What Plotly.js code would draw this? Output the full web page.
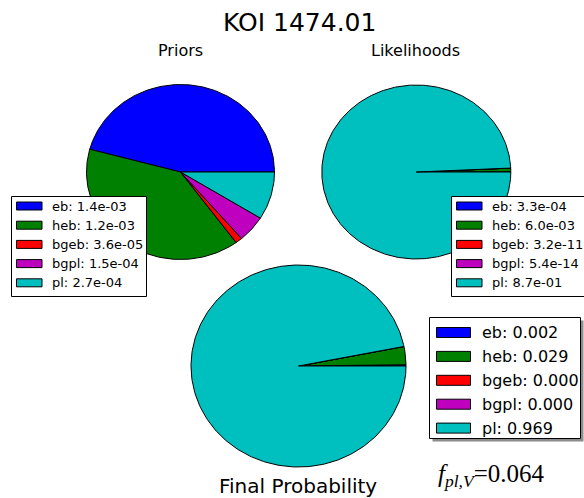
<!DOCTYPE html>
<html>
<head>
<meta charset="utf-8">
<script src="https://cdn.plot.ly/plotly-3.0.1.min.js"></script>
<style>html,body{margin:0;padding:0;background:#fff;}#chart{width:584px;height:498px;}</style>
</head>
<body>
<div id="chart"></div>
<script>
// ---- data ----
const koiName = 'KOI 1474.01';
const labels = ['eb', 'heb', 'bgeb', 'bgpl', 'pl'];
const priors = [1.4e-3, 1.2e-3, 3.6e-5, 1.5e-4, 2.7e-4];
const likelihoods = [3.3e-4, 6.0e-3, 3.2e-11, 5.4e-14, 8.7e-1];
const finalProb = [0.002, 0.029, 0.000, 0.000, 0.969];
const fplV = 0.064;
const panelTitles = ['Priors', 'Likelihoods', 'Final Probability'];

// ---- styling / layout ----
const colors = ['#0000ff', '#008000', '#ff0000', '#bf00bf', '#00bfbf'];
const W = 584, H = 498;
const px = x => x / W;
const py = y => 1 - y / H;
const PAD = 1.04;

function fmtExp(v) {
  const s = v.toExponential(1).split('e');
  const e = parseInt(s[1], 10);
  const sign = e < 0 ? '-' : '+';
  const a = Math.abs(e);
  return s[0] + 'e' + sign + (a < 10 ? '0' + a : '' + a);
}

const pies = [
  {vals: priors, cx: 180.5, cy: 172, rx: 94, ry: 87.5},
  {vals: likelihoods, cx: 416.3, cy: 172, rx: 94.5, ry: 87},
  {vals: finalProb, cx: 298.5, cy: 366, rx: 107.5, ry: 101}
];

const traces = [];
const layout = {
  width: W, height: H,
  margin: {l: 0, r: 0, t: 0, b: 0},
  paper_bgcolor: '#ffffff',
  plot_bgcolor: 'rgba(0,0,0,0)',
  showlegend: false,
  hovermode: false,
  shapes: [],
  annotations: []
};

pies.forEach((p, k) => {
  const sfx = k === 0 ? '' : String(k + 1);
  const xa = 'xaxis' + sfx, ya = 'yaxis' + sfx;
  layout[xa] = {domain: [px(p.cx - p.rx * PAD), px(p.cx + p.rx * PAD)], range: [-PAD, PAD], visible: false, fixedrange: true};
  layout[ya] = {domain: [py(p.cy + p.ry * PAD), py(p.cy - p.ry * PAD)], range: [-PAD, PAD], visible: false, fixedrange: true};
  const total = p.vals.reduce((a, b) => a + b, 0);
  let cum = 0;
  p.vals.forEach((v, i) => {
    const frac = v / total;
    const a0 = cum * 2 * Math.PI, a1 = (cum + frac) * 2 * Math.PI;
    cum += frac;
    const n = Math.max(2, Math.ceil(frac * 360));
    const xs = [0], ys = [0];
    for (let j = 0; j <= n; j++) {
      const a = a0 + (a1 - a0) * j / n;
      xs.push(Math.cos(a)); ys.push(Math.sin(a));
    }
    xs.push(0); ys.push(0);
    traces.push({
      type: 'scatter', mode: 'lines', x: xs, y: ys,
      xaxis: 'x' + sfx, yaxis: 'y' + sfx,
      fill: 'toself', fillcolor: colors[i],
      line: {color: '#000000', width: 1},
      hoverinfo: 'skip', showlegend: false, name: labels[i]
    });
  });
});

// ---- titles ----
function addText(text, x, y, size, opts) {
  layout.annotations.push(Object.assign({
    text: text, x: px(x), y: py(y), xref: 'paper', yref: 'paper',
    xanchor: 'center', yanchor: 'middle', showarrow: false,
    borderpad: 0, borderwidth: 0,
    font: {family: 'DejaVu Sans', size: size, color: '#000000'}
  }, opts || {}));
}
addText(koiName, 299.5, 22.5, 25);
addText(panelTitles[0], 180, 51, 16);
addText(panelTitles[1], 415, 51, 16);
addText(panelTitles[2], 298, 486, 20);
addText('<i>f</i><sub><i>pl,V</i></sub>=' + fplV.toFixed(3), 491, 475, 25,
  {font: {family: 'Liberation Serif', size: 25, color: '#000000'}});

// ---- legends (drawn as boxes) ----
function addLegend(vals, fmt, box, patch, textX, row0, rowStep, fontSize, shadow) {
  if (shadow) {
    layout.shapes.push({type: 'rect', xref: 'paper', yref: 'paper', layer: 'above',
      x0: px(box.x0 + 3), x1: px(box.x1 + 3), y0: py(box.y1 + 3), y1: py(box.y0 + 3),
      fillcolor: '#8c8c8c', line: {width: 0}});
  }
  layout.shapes.push({type: 'rect', xref: 'paper', yref: 'paper', layer: 'above',
    x0: px(box.x0), x1: px(box.x1), y0: py(box.y1), y1: py(box.y0),
    fillcolor: '#ffffff', line: {color: '#000000', width: 1}});
  vals.forEach((v, i) => {
    const yc = row0 + rowStep * i;
    layout.shapes.push({type: 'rect', xref: 'paper', yref: 'paper', layer: 'above',
      x0: px(patch.x0), x1: px(patch.x1), y0: py(yc + patch.h / 2), y1: py(yc - patch.h / 2),
      fillcolor: colors[i], line: {color: '#000000', width: 1}});
    addText(labels[i] + ': ' + fmt(v), textX, yc, fontSize, {xanchor: 'left'});
  });
}
addLegend(priors, fmtExp, {x0: 11.5, x1: 146.5, y0: 196.5, y1: 296.5},
  {x0: 16.5, x1: 42, h: 8}, 51.5, 206, 19.2, 13, false);
addLegend(likelihoods, fmtExp, {x0: 451.5, x1: 590, y0: 196.5, y1: 296.5},
  {x0: 456.5, x1: 482, h: 8}, 491.5, 206, 19.2, 13, false);
addLegend(finalProb, v => v.toFixed(3), {x0: 429.5, x1: 580.5, y0: 317.5, y1: 438.5},
  {x0: 436.5, x1: 470.5, h: 10}, 481.5, 332.5, 23.9, 16, true);

Plotly.newPlot('chart', traces, layout, {staticPlot: true, displayModeBar: false});
</script>
</body>
</html>
